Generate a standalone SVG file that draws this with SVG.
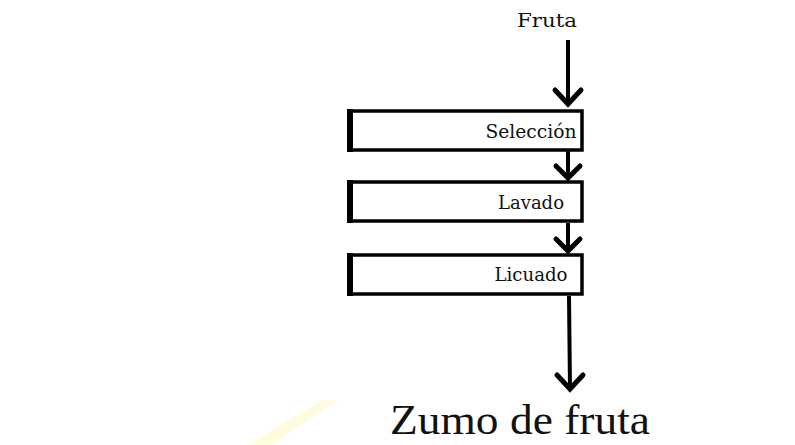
<svg xmlns="http://www.w3.org/2000/svg" width="795" height="445" viewBox="0 0 795 445">
<style>
.lbl{font-family:"DejaVu Serif","Liberation Serif",serif;font-size:18px;fill:#111;text-anchor:middle}
.big{font-family:"Liberation Serif","Times New Roman",serif;font-size:43px;fill:#111;text-anchor:middle}
.box{fill:#fff;stroke:#000;stroke-width:3.5}
.shaft{stroke:#000;stroke-width:4;fill:none}
.head{stroke:#000;stroke-width:5;fill:none;stroke-linecap:round;stroke-linejoin:miter}
</style>
<rect width="795" height="445" fill="#fff"/>
<polygon points="248,445 322,400 338,400 272,445" fill="#fffbd6" opacity="0.8"/>
<g id="connectors">
<line class="shaft" x1="568" y1="40" x2="568" y2="104"/>
<polyline class="head" points="555,90 568,104 581,90"/>
<line class="shaft" x1="568" y1="151" x2="568" y2="178"/>
<polyline class="head" points="556,166 568,178 580,166"/>
<line class="shaft" x1="568" y1="223" x2="568" y2="251"/>
<polyline class="head" points="556,239 568,251 580,239"/>
<line class="shaft" x1="569" y1="296" x2="570" y2="389"/>
<polyline class="head" points="557,375 570,389 583,375"/>
</g>
<g id="fruta"><text class="lbl" x="547" y="27" textLength="60" lengthAdjust="spacingAndGlyphs">Fruta</text></g>
<g id="seleccion">
<rect class="box" x="350" y="111" width="232" height="39"/>
<line x1="350" y1="109" x2="350" y2="152" stroke="#000" stroke-width="6"/>
<text class="lbl" x="531" y="138" textLength="91" lengthAdjust="spacingAndGlyphs">Selección</text>
</g>
<g id="lavado">
<rect class="box" x="350" y="182" width="232" height="39"/>
<line x1="350" y1="180" x2="350" y2="223" stroke="#000" stroke-width="6"/>
<text class="lbl" x="531" y="209" textLength="66" lengthAdjust="spacingAndGlyphs">Lavado</text>
</g>
<g id="licuado">
<rect class="box" x="350" y="255" width="232" height="39"/>
<line x1="350" y1="253" x2="350" y2="296" stroke="#000" stroke-width="6"/>
<text class="lbl" x="531" y="281" textLength="73" lengthAdjust="spacingAndGlyphs">Licuado</text>
</g>
<g id="zumo"><text class="big" x="520" y="434" textLength="260" lengthAdjust="spacingAndGlyphs">Zumo de fruta</text></g>
</svg>
